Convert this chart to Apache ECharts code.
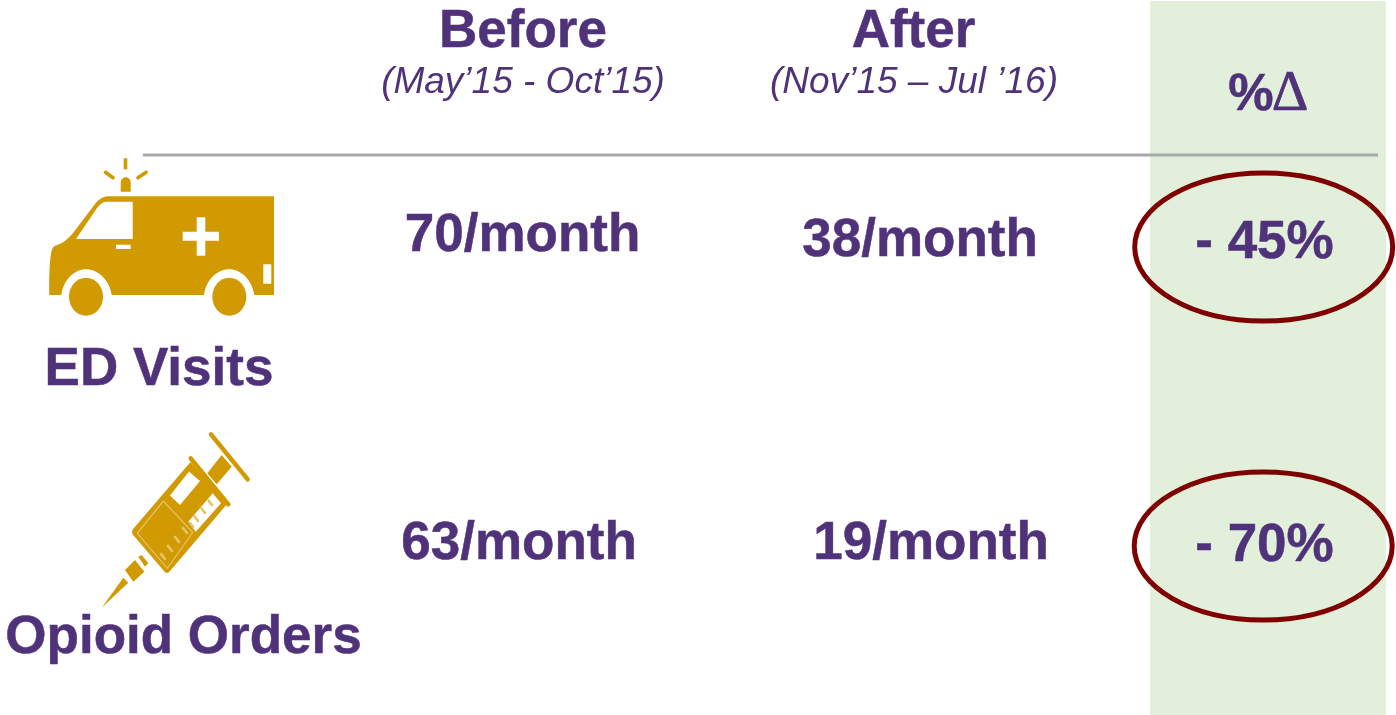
<!DOCTYPE html>
<html><head><meta charset="utf-8">
<style>html,body{margin:0;padding:0;background:#fff}#c{width:1396px;height:715px}</style>
<script src="https://cdn.jsdelivr.net/npm/echarts@6/dist/echarts.min.js"></script>
</head><body><div id="c"></div>
<script>
const columnTitles = ['Before', 'After'];
const columnPeriods = ['(May’15 - Oct’15)', '(Nov’15 – Jul ’16)'];
const changeHeader = ['%', 'Δ'];
const rowLabels = ['ED Visits', 'Opioid Orders'];
const beforeValues = ['70/month', '63/month'];
const afterValues = ['38/month', '19/month'];
const changeValues = ['- 45%', '- 70%'];

const PURPLE = '#4F3279', GOLD = '#D19A00', PALE = '#E6C26A', GREEN = '#E2EFDA', RED = '#7F0000';
const SANS = '"Liberation Sans", Arial, sans-serif';

function txt(text, x, y, o) {
  o = o || {};
  const weight = o.weight || (o.italic ? 'italic' : 'bold');
  return { type: 'text', x, y, z: 5, style: {
    text, fill: PURPLE, align: 'center', verticalAlign: 'middle',
    stroke: o.italic ? null : PURPLE, lineWidth: o.italic ? 0 : (o.stroke || 0.5),
    font: weight + ' ' + (o.size || 53) + 'px ' + (o.family || SANS)
  }};
}
let pathCount = 0;
function gold(d, fill) {
  const name = 'iconPath' + (pathCount++);
  echarts.graphic.registerShape(name, echarts.graphic.extendPath(d));
  return { type: name, z: 3, style: { fill: fill || GOLD, stroke: null } };
}
const seg = (x1, y1, x2, y2, w, col) => ({ type: 'line', z: 3, shape: { x1, y1, x2, y2 },
  style: { stroke: col || GOLD, lineWidth: w, lineCap: 'round' } });
const el = (cx, cy, rx, ry, fill) => ({ type: 'ellipse', z: 3, shape: { cx, cy, rx, ry }, style: { fill } });
const rect = (x, y, w, h, fill, z) => ({ type: 'rect', z: z || 3, shape: { x, y, width: w, height: h }, style: { fill } });
const ring = (cx, cy) => ({ type: 'ellipse', z: 4, shape: { cx, cy, rx: 129, ry: 74 },
  style: { fill: 'none', stroke: RED, lineWidth: 5 } });

const ambulance = [
  gold('M49.3 295 C49 278 49.5 262 51 254 C52 247 54 246 57 245 C63 243 67 240 73 233 L92 208 C97 201 101 197 107 196.3 L274 196.3 L274 295 L254.3 295 C252 280 241 269.3 229.3 269.3 C217 269.3 206 280 204 295 L111.7 295 C109.5 280 98 269.3 86 269.3 C74 269.3 63.5 280 61.3 295 Z'),
  gold('M76 239 L132.7 239 L132.7 201.7 L106 201.7 C103 202 100 204 97 208 Z', '#fff'),
  rect(116, 244.7, 14.7, 4.3, '#fff'),
  rect(182.7, 231.7, 36.3, 9, '#fff'),
  rect(196.7, 217.3, 8.6, 38.4, '#fff'),
  rect(263.3, 264.3, 8, 19.4, '#fff'),
  el(86, 296.7, 17, 19, GOLD),
  el(229.3, 296.7, 17, 19, GOLD),
  gold('M120.7 191.7 L120.7 183 C120.7 179.5 123 177.3 125.7 177.3 C128.4 177.3 130.7 179.5 130.7 183 L130.7 191.7 Z'),
  rect(123.7, 158.3, 3.6, 11, GOLD),
  seg(105.5, 172.3, 113, 177.8, 3.6),
  seg(146.2, 172.3, 138, 177.8, 3.6)
];

const syringe = [
  seg(211, 434.3, 247.7, 479.3, 4.5),
  gold('M221.7 455 L231.7 466.7 L216.7 484.3 L207.3 473.3 Z'),
  seg(190.7, 458.3, 228.3, 504.3, 4.5),
  gold('M190.5 462 L227.5 503.5 L170 571 C168 573.5 166 573.5 164 571 L134 536 C131.5 533 131.5 531 133.5 528.5 Z'),
  gold('M189 471.5 L200 481 L180 505 L170 495.5 Z', '#fff'),
  gold('M212.7 493.3 L221 503.3 L195.7 531.7 L188.3 521.7 Z', '#fff'),
  { type: 'polygon', z: 3, shape: { points: [[163.3, 501], [192.7, 532.3], [167.3, 568.3], [137.3, 533.3]] },
    style: { fill: 'none', stroke: PALE, lineWidth: 1.2 } },
  seg(212, 505, 208.5, 500.5, 2.6, PALE), seg(205, 513, 201.5, 508.5, 2.6, PALE),
  seg(198, 521, 194.5, 516.5, 2.6, PALE), seg(193, 527, 190, 523, 2.6, PALE),
  seg(187, 533, 183, 528, 2.8, PALE), seg(179, 542, 175, 537, 2.8, PALE),
  seg(172, 551, 168, 546, 2.8, PALE), seg(165, 559, 161, 554, 2.8, PALE),
  gold('M138.3 556.7 L141.7 555 L148.3 563.3 L145 566.7 Z'),
  gold('M125 570 L135 560 L144.3 571.7 L133.3 581.7 Z'),
  gold('M123.3 577.7 L128.3 582.7 L101.7 607.7 Z')
];

const graphics = [
  rect(1150, 1, 236, 714, GREEN, 1),
  { type: 'line', z: 2, shape: { x1: 143, y1: 155, x2: 1378, y2: 155 }, style: { stroke: '#A9A9A9', lineWidth: 3 } },
  ...ambulance, ...syringe,
  ring(1263.7, 247), ring(1263.2, 546),
  txt(columnTitles[0], 523, 32), txt(columnTitles[1], 913.5, 32),
  txt(columnPeriods[0], 523, 83, { italic: true, size: 37 }),
  txt(columnPeriods[1], 914, 83, { italic: true, size: 37 }),
  txt(changeHeader[0], 1251, 96, { size: 51 }),
  txt(changeHeader[1], 1290, 95, { size: 57, weight: 'normal', stroke: 0.7, family: '"Liberation Serif", serif' }),
  txt(rowLabels[0], 159, 370), txt(rowLabels[1], 183.5, 638),
  txt(beforeValues[0], 522.5, 236), txt(afterValues[0], 920, 241), txt(changeValues[0], 1264.5, 243),
  txt(beforeValues[1], 519, 544), txt(afterValues[1], 931, 544), txt(changeValues[1], 1264.5, 546)
];

const chart = echarts.init(document.getElementById('c'), null, { renderer: 'canvas' });
chart.setOption({ backgroundColor: '#fff', animation: false, graphic: { elements: graphics } });
</script></body></html>
